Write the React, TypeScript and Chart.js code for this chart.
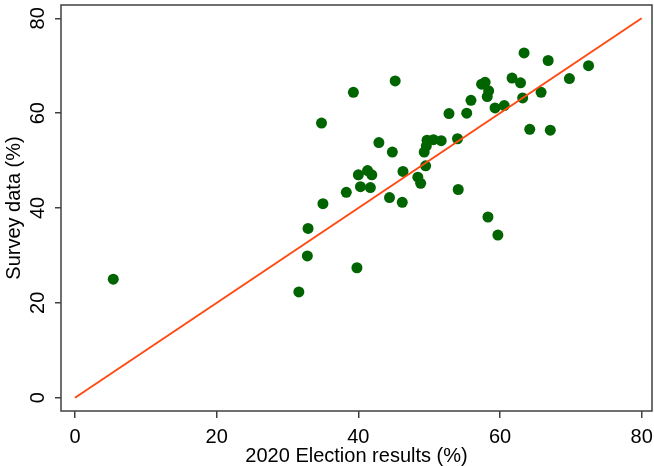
import React, { useEffect, useRef } from "react";
import { Chart, registerables } from "chart.js";

Chart.register(...registerables);

const electionResults = [
  63.4, 66.8, 72.5, 69.8, 45.2, 61.7, 62.9, 57.4, 57.9, 58.4, 58.2, 39.3, 65.8,
  63.2, 55.9, 59.3, 60.6, 52.8, 55.3, 34.8, 64.2, 67.1, 49.7, 50.6, 51.7, 49.6,
  49.3, 54.0, 42.9, 44.8, 49.5, 40.0, 41.3, 41.9, 46.3, 48.4, 48.8, 40.3, 41.7,
  38.3, 54.1, 44.4, 46.2, 35.0, 58.3, 59.7, 32.9, 32.8, 39.8, 31.6, 5.4,
];
const surveyData = [
  72.7, 71.1, 70.0, 67.3, 66.8, 67.4, 66.4, 66.1, 66.5, 64.7, 63.5, 64.4, 64.4,
  63.2, 62.7, 61.1, 61.6, 59.9, 60.0, 57.9, 56.6, 56.4, 54.3, 54.4, 54.2, 53.1,
  51.8, 54.6, 53.8, 51.8, 48.9, 47.0, 47.9, 47.0, 47.7, 46.5, 45.2, 44.5, 44.3,
  43.3, 43.9, 42.2, 41.2, 40.9, 38.1, 34.3, 35.7, 29.9, 27.4, 22.3, 25.0,
];
const referenceLineX = [0, 80];
const referenceLineY = [0, 80];
const tickValues = [0, 20, 40, 60, 80];
const xTitle = "2020 Election results (%)";
const yTitle = "Survey data (%)";

const FONT = "'Liberation Sans', Arial, sans-serif";

export default function App() {
  const ref = useRef<HTMLCanvasElement | null>(null);

  useEffect(() => {
    document.body.style.margin = "0";
    const canvas = ref.current;
    if (!canvas) return;

    const framePlugin = {
      id: "frameAndLabels",
      afterDraw(chart: any) {
        const { ctx, chartArea, scales } = chart;
        ctx.save();
        ctx.strokeStyle = "#404040";
        ctx.lineWidth = 1.5;
        ctx.strokeRect(
          chartArea.left,
          chartArea.top,
          chartArea.right - chartArea.left,
          chartArea.bottom - chartArea.top
        );
        ctx.fillStyle = "#000";
        ctx.font = `20px ${FONT}`;
        ctx.textAlign = "center";
        ctx.textBaseline = "alphabetic";
        for (const v of tickValues) {
          const py = scales.y.getPixelForValue(v);
          ctx.save();
          ctx.translate(44, py);
          ctx.rotate(-Math.PI / 2);
          ctx.fillText(String(v), 0, 0);
          ctx.restore();
        }
        for (const v of tickValues) {
          const px = scales.x.getPixelForValue(v);
          ctx.fillText(String(v), px, chartArea.bottom + 32);
        }
        ctx.restore();
      },
    };

    const setTicks = (scale: any) => {
      scale.ticks = tickValues.map((v) => ({ value: v }));
    };

    const chart = new Chart(canvas, {
      type: "scatter",
      data: {
        datasets: [
          {
            type: "line",
            data: referenceLineX.map((x, i) => ({ x, y: referenceLineY[i] })),
            borderColor: "#ff4a14",
            borderWidth: 2,
            pointRadius: 0,
            fill: false,
          } as any,
          {
            data: electionResults.map((x, i) => ({ x, y: surveyData[i] })),
            backgroundColor: "#006400",
            borderColor: "#006400",
            borderWidth: 0,
            pointRadius: 5.5,
          },
        ],
      },
      options: {
        animation: false,
        responsive: false,
        devicePixelRatio: 1,
        layout: {
          autoPadding: false,
          padding: { top: 5, right: 2, left: 0, bottom: 0 },
        },
        plugins: {
          legend: { display: false },
          tooltip: { enabled: false },
        },
        scales: {
          x: {
            type: "linear",
            min: -1.98,
            max: 81.46,
            afterBuildTicks: setTicks,
            afterFit: (s: any) => {
              s.height = 55;
            },
            border: { display: false },
            grid: {
              drawOnChartArea: false,
              drawTicks: true,
              tickLength: 7,
              color: "#404040",
              lineWidth: 1.5,
            },
            ticks: { display: false },
            title: {
              display: true,
              text: xTitle,
              color: "#000",
              font: { family: FONT, size: 20, lineHeight: 1 },
              padding: { top: 0, bottom: 0 },
            },
          },
          y: {
            type: "linear",
            min: -2.8,
            max: 82.8,
            afterBuildTicks: setTicks,
            afterFit: (s: any) => {
              s.width = 61;
            },
            border: { display: false },
            grid: {
              drawOnChartArea: false,
              drawTicks: true,
              tickLength: 6,
              color: "#404040",
              lineWidth: 1.5,
            },
            ticks: { display: false },
            title: {
              display: true,
              text: yTitle,
              color: "#000",
              font: { family: FONT, size: 20, lineHeight: 1 },
              padding: { top: 4, bottom: 0 },
            },
          },
        },
      },
      plugins: [framePlugin],
    } as any);

    return () => chart.destroy();
  }, []);

  return (
    <div style={{ width: 654, height: 466 }}>
      <canvas ref={ref} width={654} height={466} style={{ width: 654, height: 466, display: "block" }} />
    </div>
  );
}
